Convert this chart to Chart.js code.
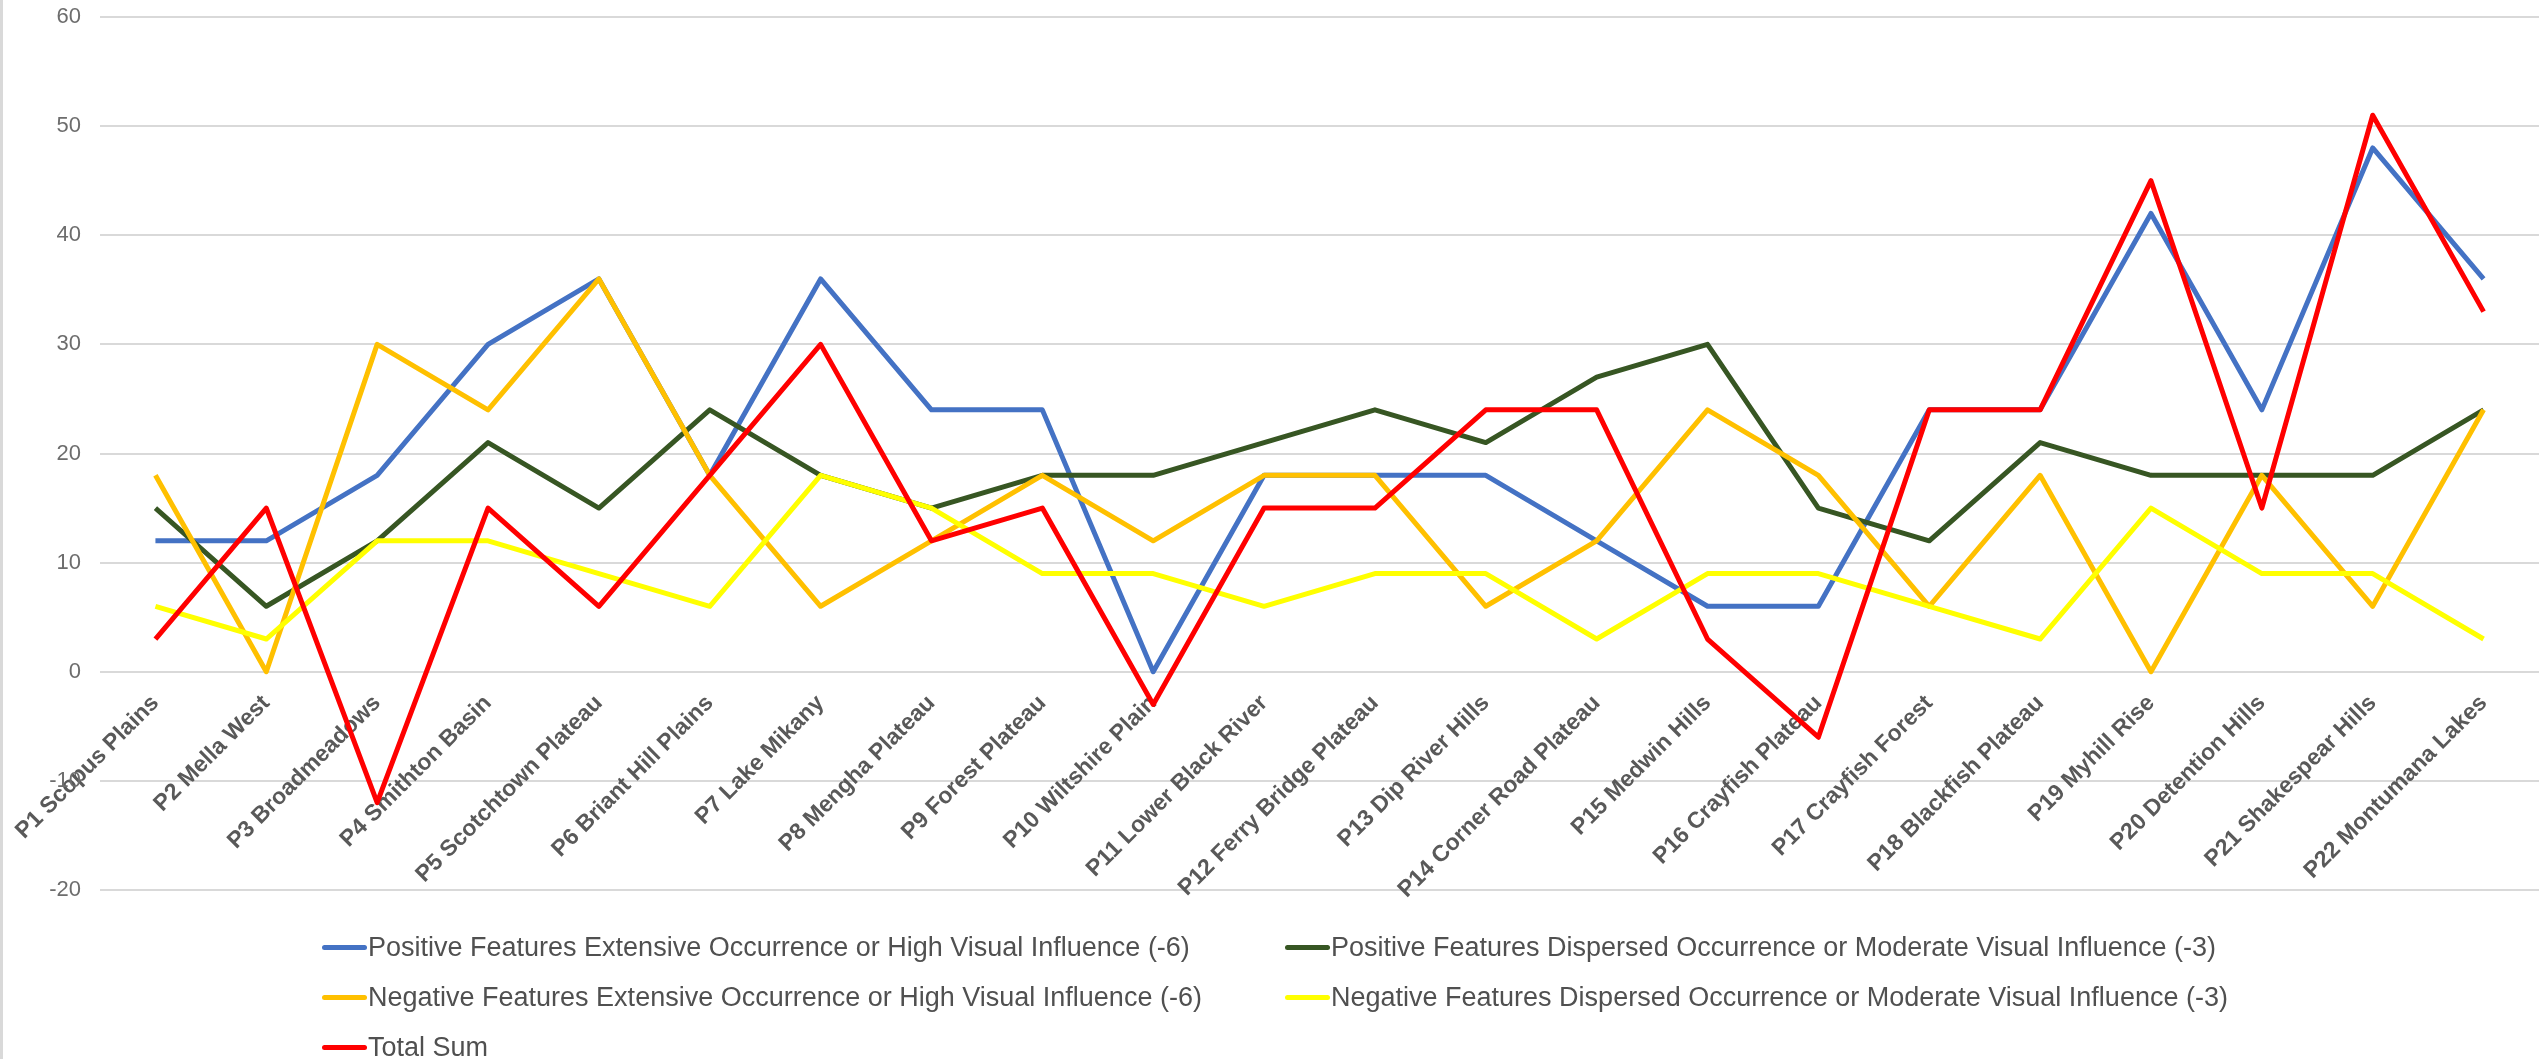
<!DOCTYPE html>
<html>
<head>
<meta charset="utf-8">
<script src="https://cdn.jsdelivr.net/npm/chart.js@4.4.1/dist/chart.umd.min.js"></script>
<style>
    html, body { margin: 0; padding: 0; background: #ffffff; }
    #wrap { position: relative; width: 2539px; height: 1059px; overflow: hidden; }
    #edge { position: absolute; left: 0; top: 0; width: 3px; height: 1059px; background: #d9d9d9; }
    #legend {
        position: absolute; left: 322px; top: 922px;
        display: grid; grid-template-columns: 963px auto;
        font-family: "Liberation Sans", sans-serif;
        font-size: 27px; color: #505050;
    }
    #legend .item { display: flex; align-items: center; height: 50px; white-space: nowrap; }
    #legend .swatch { width: 45px; height: 5px; margin-right: 1px; border-radius: 3px; }
</style>
</head>
<body>
<div id="wrap">
    <canvas id="myChart" width="2539" height="1059"></canvas>
    <div id="edge"></div>
    <div id="legend"></div>
</div>
<script>
const categories = [
    "P1 Scopus Plains", "P2 Mella West", "P3 Broadmeadows", "P4 Smithton Basin",
    "P5 Scotchtown Plateau", "P6 Briant Hill Plains", "P7 Lake Mikany", "P8 Mengha Plateau",
    "P9 Forest Plateau", "P10 Wiltshire Plain", "P11 Lower Black River", "P12 Ferry Bridge Plateau",
    "P13 Dip River Hills", "P14 Corner Road Plateau", "P15 Medwin Hills", "P16 Crayfish Plateau",
    "P17 Crayfish Forest", "P18 Blackfish Plateau", "P19 Myhill Rise", "P20 Detention Hills",
    "P21 Shakespear Hills", "P22 Montumana Lakes"
];

const positiveExtensive = [12, 12, 18, 30, 36, 18, 36, 24, 24, 0, 18, 18, 18, 12, 6, 6, 24, 24, 42, 24, 48, 36];
const positiveDispersed = [15, 6, 12, 21, 15, 24, 18, 15, 18, 18, 21, 24, 21, 27, 30, 15, 12, 21, 18, 18, 18, 24];
const negativeExtensive = [18, 0, 30, 24, 36, 18, 6, 12, 18, 12, 18, 18, 6, 12, 24, 18, 6, 18, 0, 18, 6, 24];
const negativeDispersed = [6, 3, 12, 12, 9, 6, 18, 15, 9, 9, 6, 9, 9, 3, 9, 9, 6, 3, 15, 9, 9, 3];
const totalSum = [3, 15, -12, 15, 6, 18, 30, 12, 15, -3, 15, 15, 24, 24, 3, -6, 24, 24, 45, 15, 51, 33];

const yTicks = { min: -20, max: 60, step: 10 };

const seriesNames = [
    "Positive Features Extensive Occurrence or High Visual Influence (-6)",
    "Positive Features Dispersed Occurrence or Moderate Visual Influence (-3)",
    "Negative Features Extensive Occurrence or High Visual Influence (-6)",
    "Negative Features Dispersed Occurrence or Moderate Visual Influence (-3)",
    "Total Sum"
];
const seriesColors = ["#4472c4", "#375623", "#ffc000", "#ffff00", "#ff0000"];
const seriesData = [positiveExtensive, positiveDispersed, negativeExtensive, negativeDispersed, totalSum];

// later series are painted on top, total sum last
const datasets = seriesNames.map((name, i) => ({
    label: name,
    data: seriesData[i],
    borderColor: seriesColors[i],
    backgroundColor: seriesColors[i],
    borderWidth: 5,
    borderJoinStyle: "round",
    pointRadius: 0,
    tension: 0,
    fill: false,
    order: seriesNames.length - i,
}));

const ctx = document.getElementById("myChart").getContext("2d");
const myChart = new Chart(ctx, {
    type: "line",
    data: {
        labels: categories,
        datasets: datasets,
    },
    options: {
        responsive: false,
        animation: false,
        plugins: {
            legend: { display: false },
            tooltip: { enabled: false },
        },
        layout: {
            padding: { top: 17, right: 0, bottom: 169, left: 0 },
        },
        scales: {
            x: {
                // category labels hang from the zero line, as in Excel
                position: { y: 0 },
                offset: true,
                afterFit: (scale) => { scale.height = 0; },
                grid: { display: false, tickLength: 15 },
                border: { display: false },
                ticks: {
                    autoSkip: false,
                    minRotation: 45,
                    maxRotation: 45,
                    color: "#595959",
                    font: { family: "'Liberation Sans', sans-serif", size: 23, weight: "bold" },
                },
            },
            y: {
                min: yTicks.min,
                max: yTicks.max,
                afterFit: (scale) => {
                    scale.width = 100;
                    scale.paddingTop = 0;
                    scale.paddingBottom = 0;
                },
                grid: { color: "#d9d9d9", lineWidth: 2, drawTicks: false },
                border: { display: false },
                ticks: {
                    stepSize: yTicks.step,
                    padding: 19,
                    color: "#6d6d6d",
                    font: { family: "'Liberation Sans', sans-serif", size: 22 },
                },
            },
        },
    },
});

// legend laid out in two columns like the original
const legend = document.getElementById("legend");
myChart.data.datasets.forEach((ds) => {
    const item = document.createElement("div");
    item.className = "item";
    const swatch = document.createElement("span");
    swatch.className = "swatch";
    swatch.style.background = ds.borderColor;
    const text = document.createElement("span");
    text.textContent = ds.label;
    item.appendChild(swatch);
    item.appendChild(text);
    legend.appendChild(item);
});
</script>
</body>
</html>
